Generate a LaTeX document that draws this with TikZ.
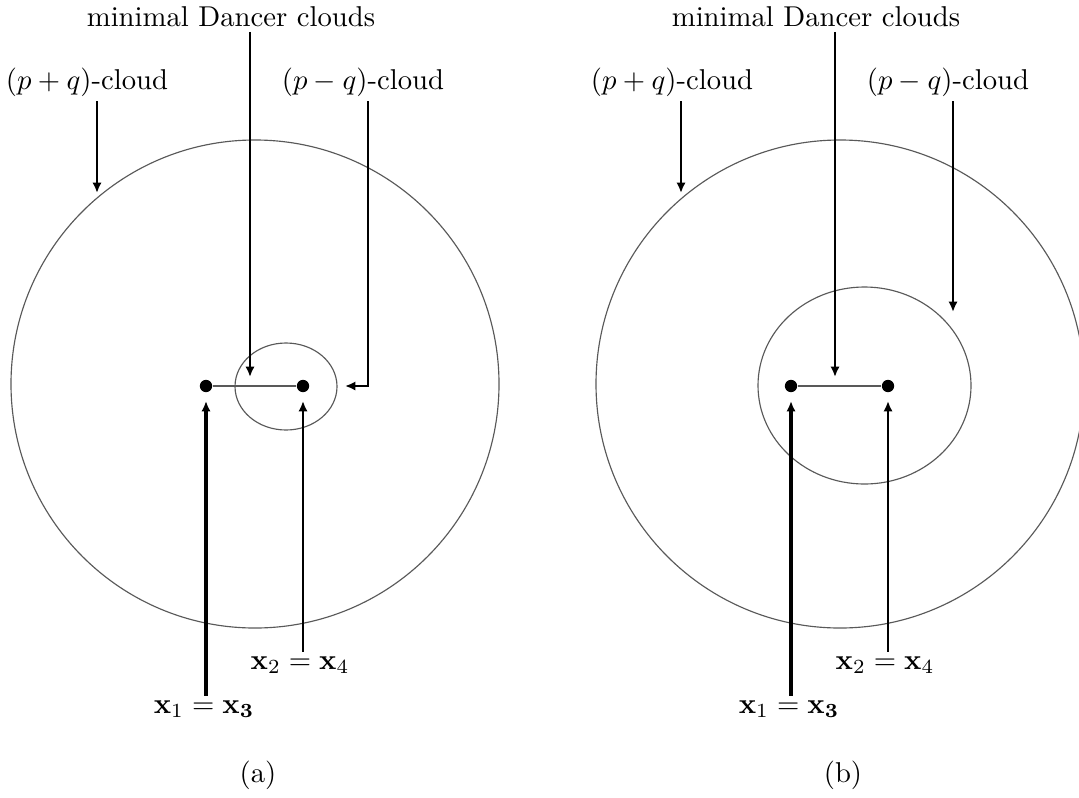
\documentclass[tikz,border=0pt]{standalone}
\usepackage{amsmath,amssymb}
\usetikzlibrary{arrows.meta,positioning}
\tikzset{
    % points x_1 = x_3 and x_2 = x_4
    pt/.style={circle, fill=black, inner sep=0pt, minimum size=4.3pt},
    % cloud outlines
    cloudline/.style={draw=black!65, line width=0.4pt},
    % segment joining the two points
    seg/.style={draw=black!65, line width=0.4pt},
    % text labels
    lbl/.style={inner sep=1.5pt},
    % labelling arrows
    lab/.style={line width=0.9pt, -{Latex[length=3.6pt,width=3.2pt]}},
    thicklab/.style={line width=1.4pt, -{Latex[length=3.6pt,width=3.2pt]}},
}

\begin{document}
\begin{tikzpicture}[x=0.01226cm,y=-0.01226cm]
  \useasboundingbox (0,0) rectangle (1079,797);

  % ---------------- panel (a)
  \draw[cloudline] (255,384) circle[radius=244];
  \draw[cloudline] (286,386.5) circle[x radius=51, y radius=43.5];
  \node[pt] (xa1) at (206,386) {};
  \node[pt] (xa2) at (303,386) {};
  \draw[seg] (xa1) -- (xa2);

  \node[lbl] (mdA) at (231,17) {minimal Dancer clouds};
  \coordinate (mdAe) at (250,377);
  \draw[lab] (mdAe |- mdA.south) -- (mdAe);

  \node[lbl] (pqA) at (87,82) {$(p+q)$-cloud};
  \coordinate (pqAe) at (97,193);
  \draw[lab] (pqAe |- pqA.south) -- (pqAe);

  \node[lbl] (pmA) at (363,82) {$(p-q)$-cloud};
  \coordinate (pmAc) at (368,386);
  \coordinate (pmAe) at (345,386);
  \draw[lab] (pmAc |- pmA.south) -- (pmAc) -- (pmAe);

  \node[lbl] (xlA1) at (204,709) {$\mathbf{x}_1=\mathbf{x_3}$};
  \coordinate (xa1t) at (206,401);
  \draw[thicklab] (xa1t |- xlA1.north) -- (xa1t);

  \node[lbl] (xlA2) at (300,665) {$\mathbf{x}_2=\mathbf{x}_4$};
  \coordinate (xa2t) at (303,401);
  \draw[lab] (xa2t |- xlA2.north) -- (xa2t);

  \node (capA) at (258,775) {(a)};

  % ---------------- panel (b)
  \draw[cloudline] (840,384) circle[radius=244];
  \draw[cloudline] (864.5,385.5) circle[x radius=106.5, y radius=98.5];
  \node[pt] (xb1) at (791,386) {};
  \node[pt] (xb2) at (888,386) {};
  \draw[seg] (xb1) -- (xb2);

  \node[lbl] (mdB) at (816,17) {minimal Dancer clouds};
  \coordinate (mdBe) at (835,377);
  \draw[lab] (mdBe |- mdB.south) -- (mdBe);

  \node[lbl] (pqB) at (672,82) {$(p+q)$-cloud};
  \coordinate (pqBe) at (681,193);
  \draw[lab] (pqBe |- pqB.south) -- (pqBe);

  \node[lbl] (pmB) at (948,82) {$(p-q)$-cloud};
  \coordinate (pmBe) at (953,312);
  \draw[lab] (pmBe |- pmB.south) -- (pmBe);

  \node[lbl] (xlB1) at (789,709) {$\mathbf{x}_1=\mathbf{x_3}$};
  \coordinate (xb1t) at (791,401);
  \draw[thicklab] (xb1t |- xlB1.north) -- (xb1t);

  \node[lbl] (xlB2) at (885,665) {$\mathbf{x}_2=\mathbf{x}_4$};
  \coordinate (xb2t) at (888,401);
  \draw[lab] (xb2t |- xlB2.north) -- (xb2t);

  \node (capB) at (843,775) {(b)};
\end{tikzpicture}
\end{document}
